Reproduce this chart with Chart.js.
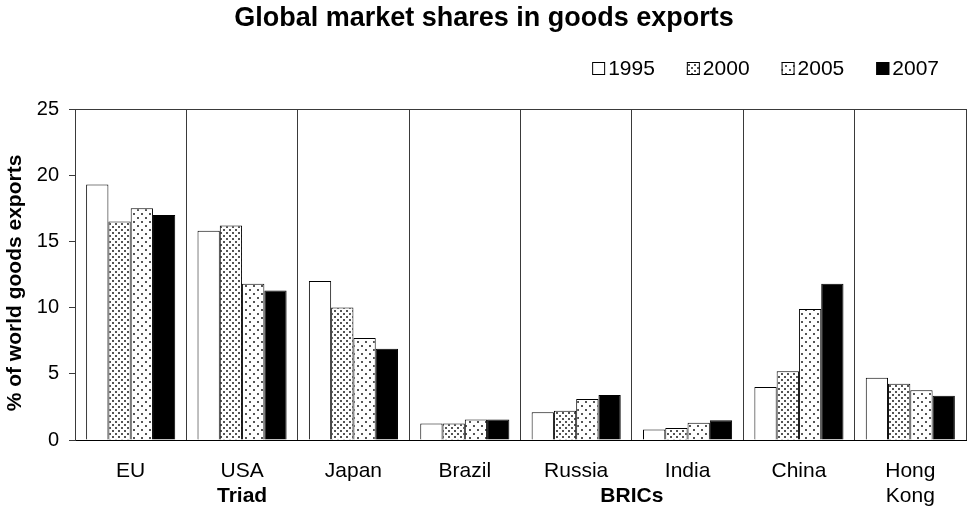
<!DOCTYPE html>
<html>
<head>
<meta charset="utf-8">
<script src="https://cdn.jsdelivr.net/npm/chart.js@4.4.1/dist/chart.umd.min.js"></script>
<style>
    html, body { margin: 0; padding: 0; background: #ffffff; }
    #wrap { width: 968px; height: 509px; }
</style>
</head>
<body>
<div id="wrap"><canvas id="exports-chart" width="968" height="509"></canvas></div>
<script>
const chartTitle = 'Global market shares in goods exports';
const yAxisTitle = '% of world goods exports';

const countries = ['EU', 'USA', 'Japan', 'Brazil', 'Russia', 'India', 'China', ['Hong', 'Kong']];
const years = ['1995', '2000', '2005', '2007'];

// share of world goods exports, in %
const share1995 = [19.3, 15.8, 12.0, 1.25, 2.1, 0.8, 4.0, 4.7];
const share2000 = [16.5, 16.2, 10.0, 1.25, 2.2, 0.9, 5.2, 4.25];
const share2005 = [17.5, 11.8, 7.7, 1.55, 3.1, 1.3, 9.9, 3.75];
const share2007 = [17.0, 11.3, 6.9, 1.55, 3.4, 1.5, 11.8, 3.35];

const groupNames = ['Triad', 'BRICs'];
const groupMembers = [['EU', 'USA', 'Japan'], ['Brazil', 'Russia', 'India', 'China']];

const FONT = '"Liberation Sans", Arial, sans-serif';
const LINE = '#3a3a3a';

function dotPattern(size, dots) {
    const c = document.createElement('canvas');
    c.width = size;
    c.height = size;
    const g = c.getContext('2d');
    g.fillStyle = '#ffffff';
    g.fillRect(0, 0, size, size);
    g.fillStyle = '#555555';
    dots.forEach(([x, y]) => g.fillRect(x, y, 2, 2));
    return g.createPattern(c, 'repeat');
}

const fills = [
    '#ffffff',
    dotPattern(6, [[1, 1], [4, 4]]),
    dotPattern(8, [[1, 1], [5, 5]]),
    '#000000'
];

const series = [share1995, share2000, share2005, share2007];

// title, legend, rotated axis title, group names under the categories, top frame line
const decorations = {
    id: 'decorations',
    afterDraw(chart) {
        const ctx = chart.ctx;
        const area = chart.chartArea;
        const xScale = chart.scales.x;
        ctx.save();

        ctx.strokeStyle = LINE;
        ctx.lineWidth = 1;
        ctx.beginPath();
        ctx.moveTo(area.left, area.top + 0.5);
        ctx.lineTo(area.right, area.top + 0.5);
        ctx.stroke();

        ctx.fillStyle = '#000000';
        ctx.font = 'bold 27px ' + FONT;
        ctx.textAlign = 'center';
        ctx.textBaseline = 'alphabetic';
        ctx.fillText(chartTitle, chart.width / 2, 26);

        // legend, right aligned
        ctx.font = '21px ' + FONT;
        ctx.textAlign = 'left';
        const box = 13;
        let x = 939;
        for (let i = years.length - 1; i >= 0; i--) {
            const w = ctx.measureText(years[i]).width;
            x -= w;
            ctx.fillText(years[i], x, 75);
            x -= 3 + box;
            ctx.fillStyle = fills[i];
            ctx.fillRect(x, 62, box, box);
            ctx.strokeStyle = '#000000';
            ctx.strokeRect(x + 0.5, 62.5, box - 1, box - 1);
            ctx.fillStyle = '#000000';
            x -= 32;
        }

        ctx.save();
        ctx.translate(15, 283);
        ctx.rotate(-Math.PI / 2);
        ctx.font = 'bold 21px ' + FONT;
        ctx.textAlign = 'center';
        ctx.textBaseline = 'middle';
        ctx.fillText(yAxisTitle, 0, 0);
        ctx.restore();

        ctx.font = 'bold 21px ' + FONT;
        ctx.textAlign = 'center';
        ctx.textBaseline = 'middle';
        groupNames.forEach((name, i) => {
            const idx = groupMembers[i].map(m => countries.findIndex(c => c === m));
            const first = xScale.getPixelForValue(Math.min(...idx));
            const last = xScale.getPixelForValue(Math.max(...idx));
            ctx.fillText(name, (first + last) / 2, 496);
        });

        ctx.restore();
    }
};

const ctx = document.getElementById('exports-chart').getContext('2d');
new Chart(ctx, {
    type: 'bar',
    data: {
        labels: countries,
        datasets: years.map((year, i) => ({
            label: year,
            data: series[i],
            backgroundColor: fills[i],
            borderColor: '#000000',
            borderWidth: 1,
            borderSkipped: 'bottom',
            categoryPercentage: 0.8,
            barPercentage: 1.0
        }))
    },
    options: {
        responsive: false,
        animation: false,
        layout: { padding: { top: 109, right: 2, left: 0, bottom: 0 } },
        plugins: {
            legend: { display: false },
            title: { display: false },
            tooltip: { enabled: false }
        },
        scales: {
            x: {
                grid: { offset: true, color: LINE, drawTicks: false },
                border: { display: true, color: '#000000' },
                ticks: {
                    color: '#000000',
                    font: { family: FONT, size: 21, lineHeight: 1.17 },
                    padding: 19,
                    maxRotation: 0,
                    autoSkip: false
                },
                afterFit: scale => { scale.height = 69; }
            },
            y: {
                min: 0,
                max: 25,
                grid: { drawOnChartArea: false, tickLength: 6, color: LINE },
                border: { display: true, color: LINE },
                ticks: {
                    stepSize: 5,
                    color: '#000000',
                    font: { family: FONT, size: 20 },
                    padding: 10
                },
                afterFit: scale => { scale.width = 75; }
            }
        }
    },
    plugins: [decorations]
});
</script>
</body>
</html>
